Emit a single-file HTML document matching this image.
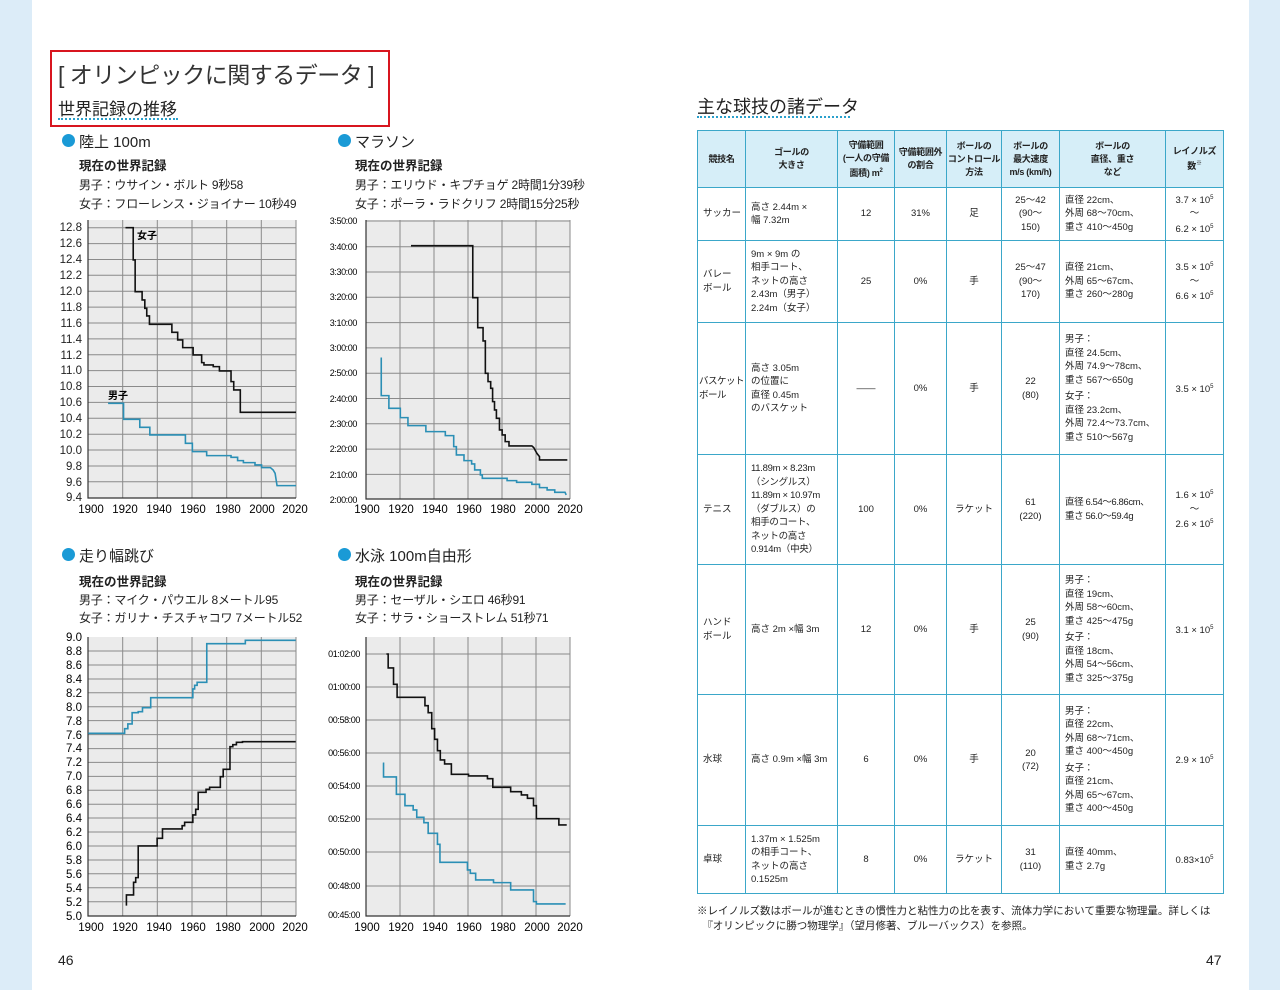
<!DOCTYPE html>
<html><head><meta charset="utf-8">
<style>
body{margin:0;width:1280px;height:990px;position:relative;background:#fff;font-family:"Liberation Sans","Noto Sans CJK JP",sans-serif;color:#222;overflow:hidden}
.a{position:absolute;white-space:nowrap}
.dot{position:absolute;width:13px;height:13px;border-radius:50%;background:#1a9ad6}
.h{font-size:15px}
.b{font-size:12.5px;font-weight:bold}
.t{font-size:12px;letter-spacing:-0.2px}
table{position:absolute;left:697px;top:130px;border-collapse:collapse;font-size:9.5px;line-height:13.5px;table-layout:fixed;width:526px}
td{border:1.5px solid #3ba7c9;padding:0 3px 0 5px;vertical-align:middle;white-space:nowrap;overflow:hidden}
th{border:1.5px solid #3ba7c9;background:#d6eef8;font-weight:bold;font-size:9px;line-height:13px;padding:0;white-space:nowrap;letter-spacing:-0.3px}
.c{text-align:center;padding:0}
sup{font-size:6px}
</style></head><body>
<div style="position:absolute;left:0;top:0;width:32px;height:990px;background:#dcecf8"></div>
<div style="position:absolute;left:1249px;top:0;width:31px;height:990px;background:#dcecf8"></div>

<div style="position:absolute;left:50px;top:50px;width:336px;height:73px;border:2px solid #d8151f"></div>
<div class="a" style="left:58px;top:56px;font-size:23px;color:#333;letter-spacing:-0.5px">[ オリンピックに関するデータ ]</div>
<div class="a" style="left:58px;top:95px;font-size:17px">世界記録の推移</div>
<div style="position:absolute;left:58px;top:118px;width:120px;border-top:2px dotted #2aa0cc"></div>

<div class="dot" style="left:62px;top:134px"></div><div class="a h" style="left:79px;top:131px">陸上 100m</div>
<div class="a b" style="left:79px;top:155px">現在の世界記録</div>
<div class="a t" style="left:79px;top:176px">男子：ウサイン・ボルト 9秒58</div>
<div class="a t" style="left:79px;top:195px">女子：フローレンス・ジョイナー 10秒49</div>

<div class="dot" style="left:338px;top:134px"></div><div class="a h" style="left:355px;top:131px">マラソン</div>
<div class="a b" style="left:355px;top:155px">現在の世界記録</div>
<div class="a t" style="left:355px;top:176px">男子：エリウド・キプチョゲ 2時間1分39秒</div>
<div class="a t" style="left:355px;top:195px">女子：ポーラ・ラドクリフ 2時間15分25秒</div>

<div class="dot" style="left:62px;top:548px"></div><div class="a h" style="left:79px;top:545px">走り幅跳び</div>
<div class="a b" style="left:79px;top:571px">現在の世界記録</div>
<div class="a t" style="left:79px;top:591px">男子：マイク・パウエル 8メートル95</div>
<div class="a t" style="left:79px;top:609px">女子：ガリナ・チスチャコワ 7メートル52</div>

<div class="dot" style="left:338px;top:548px"></div><div class="a h" style="left:355px;top:545px">水泳 100m自由形</div>
<div class="a b" style="left:355px;top:571px">現在の世界記録</div>
<div class="a t" style="left:355px;top:591px">男子：セーザル・シエロ 46秒91</div>
<div class="a t" style="left:355px;top:609px">女子：サラ・ショーストレム 51秒71</div>

<svg width="1280" height="990" style="position:absolute;left:0;top:0" font-family="Liberation Sans, sans-serif">
<!-- chart 1 -->
<rect x="88" y="220" width="208" height="278" fill="#ebebeb"/>
<g stroke="#8a8a8a" stroke-width="1">
<path d="M122.7 220V498M157.3 220V498M192 220V498M226.7 220V498M261.3 220V498M296 220V498"/>
<path d="M88 227.7H296M88 243.6H296M88 259.5H296M88 275.3H296M88 291.2H296M88 307.1H296M88 323H296M88 338.9H296M88 354.8H296M88 370.6H296M88 386.5H296M88 402.4H296M88 418.3H296M88 434.2H296M88 450H296M88 466H296M88 481.8H296"/>
</g>
<path d="M88 220V498H296" stroke="#333" fill="none" stroke-width="1.2"/>
<g font-size="11.5" text-anchor="end" fill="#222">
<text x="82" y="231">12.8</text><text x="82" y="247">12.6</text><text x="82" y="263">12.4</text><text x="82" y="279">12.2</text><text x="82" y="295">12.0</text><text x="82" y="311">11.8</text><text x="82" y="327">11.6</text><text x="82" y="343">11.4</text><text x="82" y="359">11.2</text><text x="82" y="374">11.0</text><text x="82" y="390">10.8</text><text x="82" y="406">10.6</text><text x="82" y="422">10.4</text><text x="82" y="438">10.2</text><text x="82" y="454">10.0</text><text x="82" y="470">9.8</text><text x="82" y="486">9.6</text><text x="82" y="501">9.4</text>
</g>
<g font-size="11.5" text-anchor="middle"><text x="91" y="513">1900</text><text x="125" y="513">1920</text><text x="159" y="513">1940</text><text x="193" y="513">1960</text><text x="228" y="513">1980</text><text x="262" y="513">2000</text><text x="295" y="513">2020</text></g>
<g transform="matrix(0.3866 0 0 0.3333 38.5 40)" fill="none" stroke-width="1.6">
<polyline vector-effect="non-scaling-stroke" stroke="#111" points="225,563 245,563 245,660 250,660 250,755 268,755 268,780 275,780 275,805 280,805 280,828 287,828 287,853 345,853 345,877 360,877 360,900 373,900 373,923 400,923 400,945 422,945 422,968 428,968 428,975 452,975 452,980 468,980 468,993 498,993 498,1025 505,1025 505,1050 522,1050 522,1117 666,1117"/>
<polyline vector-effect="non-scaling-stroke" stroke="#2b8fb5" points="180,1090 220,1090 220,1138 262,1138 262,1162 288,1162 288,1185 380,1185 380,1210 398,1210 398,1235 435,1235 435,1247 498,1247 498,1252 515,1252 515,1262 530,1262 530,1268 560,1268 560,1275 577,1275 577,1283 600,1283 607,1290 612,1300 617,1337 666,1337"/>
</g>
<text x="137" y="239" font-size="10" font-weight="bold" font-family="Liberation Sans, Noto Sans CJK JP, sans-serif">女子</text>
<text x="108" y="399" font-size="10" font-weight="bold" font-family="Liberation Sans, Noto Sans CJK JP, sans-serif">男子</text>

<!-- chart 2 -->
<rect x="366" y="220" width="204" height="279" fill="#ebebeb"/>
<g stroke="#8a8a8a" stroke-width="1">
<path d="M400 220V499M434 220V499M468 220V499M502 220V499M536 220V499M570 220V499"/>
<path d="M366 221H570M366 246.7H570M366 272H570M366 297.3H570M366 322.6H570M366 347.9H570M366 373.2H570M366 398.5H570M366 423.8H570M366 449.1H570M366 474.4H570"/>
</g>
<path d="M366 220V499H570" stroke="#333" fill="none" stroke-width="1.2"/>
<g font-size="9" text-anchor="end" letter-spacing="-0.4"><text x="357" y="224">3:50:00</text><text x="357" y="250">3:40:00</text><text x="357" y="275">3:30:00</text><text x="357" y="300">3:20:00</text><text x="357" y="326">3:10:00</text><text x="357" y="351">3:00:00</text><text x="357" y="376">2:50:00</text><text x="357" y="402">2:40:00</text><text x="357" y="427">2:30:00</text><text x="357" y="452">2:20:00</text><text x="357" y="478">2:10:00</text><text x="357" y="503">2:00:00</text></g>
<g font-size="11.5" text-anchor="middle"><text x="367" y="513">1900</text><text x="401" y="513">1920</text><text x="435" y="513">1940</text><text x="469" y="513">1960</text><text x="503" y="513">1980</text><text x="537" y="513">2000</text><text x="570" y="513">2020</text></g>
<g transform="matrix(0.3813 0 0 0.3333 41.9 40)" fill="none" stroke-width="1.6">
<polyline vector-effect="non-scaling-stroke" stroke="#111" points="968,617 1130,617 1130,773 1143,773 1143,863 1157,863 1157,903 1163,903 1163,1000 1170,1000 1170,1025 1177,1025 1177,1045 1182,1045 1182,1085 1187,1085 1187,1110 1192,1110 1192,1135 1200,1135 1200,1170 1207,1170 1207,1185 1215,1185 1215,1205 1225,1205 1225,1218 1285,1218 1290,1223 1298,1240 1305,1250 1305,1260 1378,1260"/>
<polyline vector-effect="non-scaling-stroke" stroke="#2b8fb5" points="888,955 890,955 890,1067 910,1067 910,1105 940,1105 940,1133 960,1133 960,1157 1007,1157 1007,1175 1058,1175 1058,1187 1080,1187 1080,1220 1087,1220 1087,1245 1107,1245 1107,1262 1127,1262 1127,1272 1135,1272 1135,1290 1150,1290 1150,1305 1155,1305 1155,1315 1220,1315 1220,1322 1245,1322 1245,1327 1285,1327 1285,1333 1305,1333 1305,1343 1325,1343 1325,1350 1345,1350 1345,1357 1372,1357 1375,1365"/>
</g>

<!-- chart 3 -->
<rect x="88" y="637" width="208" height="279" fill="#ebebeb"/>
<g stroke="#8a8a8a" stroke-width="1">
<path d="M122.7 637V916M157.3 637V916M192 637V916M226.7 637V916M261.3 637V916M296 637V916"/>
<path d="M88 651H296M88 665H296M88 679H296M88 692.8H296M88 706.7H296M88 720.6H296M88 734.6H296M88 748.6H296M88 762.4H296M88 776.4H296M88 790.3H296M88 804.2H296M88 818H296M88 832H296M88 846H296M88 860H296M88 873.8H296M88 887.8H296M88 901.7H296"/>
</g>
<path d="M88 637V916H296" stroke="#333" fill="none" stroke-width="1.2"/>
<g font-size="11.5" text-anchor="end">
<text x="82" y="641">9.0</text><text x="82" y="655">8.8</text><text x="82" y="669">8.6</text><text x="82" y="683">8.4</text><text x="82" y="697">8.2</text><text x="82" y="711">8.0</text><text x="82" y="725">7.8</text><text x="82" y="739">7.6</text><text x="82" y="752">7.4</text><text x="82" y="766">7.2</text><text x="82" y="780">7.0</text><text x="82" y="794">6.8</text><text x="82" y="808">6.6</text><text x="82" y="822">6.4</text><text x="82" y="836">6.2</text><text x="82" y="850">6.0</text><text x="82" y="864">5.8</text><text x="82" y="878">5.6</text><text x="82" y="892">5.4</text><text x="82" y="906">5.2</text><text x="82" y="920">5.0</text>
</g>
<g font-size="11.5" text-anchor="middle"><text x="91" y="931">1900</text><text x="125" y="931">1920</text><text x="159" y="931">1940</text><text x="193" y="931">1960</text><text x="228" y="931">1980</text><text x="262" y="931">2000</text><text x="295" y="931">2020</text></g>
<g transform="matrix(0.3571 0 0 0.3333 40 540)" fill="none" stroke-width="1.6">
<polyline vector-effect="non-scaling-stroke" stroke="#2b8fb5" points="135,580 237,580 237,566 246,566 246,552 258,552 258,518 275,518 275,515 287,515 287,503 310,503 310,473 428,473 428,447 433,447 433,436 440,436 440,427 467,427 467,311 575,311 575,301 716,301"/>
<polyline vector-effect="non-scaling-stroke" stroke="#111" points="242,1097 242,1065 262,1065 262,1027 268,1027 268,1013 275,1013 275,918 328,918 328,895 343,895 343,867 398,867 398,857 405,857 405,847 428,847 428,825 436,825 436,808 443,808 443,757 465,757 465,748 475,748 475,742 505,742 505,710 513,710 513,688 532,688 532,620 540,620 540,614 550,614 550,607 567,607 567,605 716,605"/>
</g>

<!-- chart 4 -->
<rect x="366" y="637" width="204" height="279" fill="#ebebeb"/>
<g stroke="#8a8a8a" stroke-width="1">
<path d="M400 637V916M434 637V916M468 637V916M502 637V916M536 637V916M570 637V916"/>
<path d="M366 654H570M366 687H570M366 720H570M366 753H570M366 786H570M366 819H570M366 852H570M366 886H570"/>
</g>
<path d="M366 637V916H570" stroke="#333" fill="none" stroke-width="1.2"/>
<g font-size="9" text-anchor="end" letter-spacing="-0.4"><text x="360" y="657">01:02:00</text><text x="360" y="690">01:00:00</text><text x="360" y="723">00:58:00</text><text x="360" y="756">00:56:00</text><text x="360" y="789">00:54:00</text><text x="360" y="822">00:52:00</text><text x="360" y="855">00:50:00</text><text x="360" y="889">00:48:00</text><text x="360" y="918">00:45:00</text></g>
<g font-size="11.5" text-anchor="middle"><text x="367" y="931">1900</text><text x="401" y="931">1920</text><text x="435" y="931">1940</text><text x="469" y="931">1960</text><text x="503" y="931">1980</text><text x="537" y="931">2000</text><text x="570" y="931">2020</text></g>
<g transform="matrix(0.3571 0 0 0.3333 40 540)" fill="none" stroke-width="1.6">
<polyline vector-effect="non-scaling-stroke" stroke="#111" points="970,342 975,342 975,384 990,384 990,433 1000,433 1000,472 1078,472 1078,497 1087,497 1087,518 1097,518 1097,566 1105,566 1105,598 1113,598 1113,632 1121,632 1121,660 1133,660 1133,672 1152,672 1152,703 1200,703 1200,708 1253,708 1253,716 1268,716 1268,742 1318,742 1318,755 1348,755 1348,765 1365,765 1365,775 1382,775 1382,797 1390,797 1390,836 1453,836 1453,855 1475,855"/>
<polyline vector-effect="non-scaling-stroke" stroke="#2b8fb5" points="960,670 962,670 962,711 998,711 998,763 1022,763 1022,797 1045,797 1045,810 1055,810 1055,832 1075,832 1075,848 1087,848 1087,880 1113,880 1113,913 1120,913 1120,967 1197,967 1197,990 1205,990 1205,1000 1220,1000 1220,1020 1270,1020 1270,1028 1318,1028 1318,1050 1382,1050 1382,1085 1390,1085 1390,1092 1472,1092"/>
</g>
</svg>

<div class="a" style="left:58px;top:952px;font-size:14px">46</div>
<div class="a" style="left:1206px;top:952px;font-size:14px">47</div>

<div class="a" style="left:697px;top:93px;font-size:18px">主な球技の諸データ</div>
<div style="position:absolute;left:697px;top:116px;width:153px;border-top:2px dotted #2aa0cc"></div>

<table>
<colgroup><col style="width:48px"><col style="width:92px"><col style="width:57px"><col style="width:52px"><col style="width:55px"><col style="width:58px"><col style="width:106px"><col style="width:58px"></colgroup>
<tr style="height:57px"><th>競技名</th><th>ゴールの<br>大きさ</th><th>守備範囲<br>(一人の守備<br>面積) m<sup>2</sup></th><th>守備範囲外<br>の割合</th><th>ボールの<br>コントロール<br>方法</th><th>ボールの<br>最大速度<br>m/s (km/h)</th><th>ボールの<br>直径、重さ<br>など</th><th>レイノルズ<br>数<sup>※</sup></th></tr>
<tr style="height:53px"><td>サッカー</td><td>高さ 2.44m ×<br>幅 7.32m</td><td class="c">12</td><td class="c">31%</td><td class="c">足</td><td class="c">25～42<br>(90～<br>150)</td><td>直径 22cm、<br>外周 68～70cm、<br>重さ 410～450g</td><td class="c">3.7 × 10<sup>5</sup><br>～<br>6.2 × 10<sup>5</sup></td></tr>
<tr style="height:82px"><td>バレー<br>ボール</td><td>9m × 9m の<br>相手コート、<br>ネットの高さ<br>2.43m（男子）<br>2.24m（女子）</td><td class="c">25</td><td class="c">0%</td><td class="c">手</td><td class="c">25～47<br>(90～<br>170)</td><td>直径 21cm、<br>外周 65～67cm、<br>重さ 260～280g</td><td class="c">3.5 × 10<sup>5</sup><br>～<br>6.6 × 10<sup>5</sup></td></tr>
<tr style="height:132px"><td style="padding:0 1px;letter-spacing:-0.5px">バスケット<br>ボール</td><td>高さ 3.05m<br>の位置に<br>直径 0.45m<br>のバスケット</td><td class="c">――</td><td class="c">0%</td><td class="c">手</td><td class="c">22<br>(80)</td><td>男子：<br>直径 24.5cm、<br>外周 74.9～78cm、<br>重さ 567～650g<br><span style="display:block;height:3px"></span>女子：<br>直径 23.2cm、<br>外周 72.4～73.7cm、<br>重さ 510～567g</td><td class="c">3.5 × 10<sup>5</sup></td></tr>
<tr style="height:110px"><td>テニス</td><td style="letter-spacing:-0.3px">11.89m × 8.23m<br>（シングルス）<br>11.89m × 10.97m<br>（ダブルス）の<br>相手のコート、<br>ネットの高さ<br>0.914m（中央）</td><td class="c">100</td><td class="c">0%</td><td class="c">ラケット</td><td class="c">61<br>(220)</td><td style="letter-spacing:-0.4px">直径 6.54～6.86cm、<br>重さ 56.0～59.4g</td><td class="c">1.6 × 10<sup>5</sup><br>～<br>2.6 × 10<sup>5</sup></td></tr>
<tr style="height:130px"><td>ハンド<br>ボール</td><td>高さ 2m ×幅 3m</td><td class="c">12</td><td class="c">0%</td><td class="c">手</td><td class="c">25<br>(90)</td><td>男子：<br>直径 19cm、<br>外周 58～60cm、<br>重さ 425～475g<br><span style="display:block;height:3px"></span>女子：<br>直径 18cm、<br>外周 54～56cm、<br>重さ 325～375g</td><td class="c">3.1 × 10<sup>5</sup></td></tr>
<tr style="height:131px"><td>水球</td><td>高さ 0.9m ×幅 3m</td><td class="c">6</td><td class="c">0%</td><td class="c">手</td><td class="c">20<br>(72)</td><td>男子：<br>直径 22cm、<br>外周 68～71cm、<br>重さ 400～450g<br><span style="display:block;height:3px"></span>女子：<br>直径 21cm、<br>外周 65～67cm、<br>重さ 400～450g</td><td class="c">2.9 × 10<sup>5</sup></td></tr>
<tr style="height:68px"><td>卓球</td><td>1.37m × 1.525m<br>の相手コート、<br>ネットの高さ<br>0.1525m</td><td class="c">8</td><td class="c">0%</td><td class="c">ラケット</td><td class="c">31<br>(110)</td><td>直径 40mm、<br>重さ 2.7g</td><td class="c">0.83×10<sup>5</sup></td></tr>
</table>

<div class="a" style="left:697px;top:904px;font-size:10.5px;line-height:15px">※レイノルズ数はボールが進むときの慣性力と粘性力の比を表す、流体力学において重要な物理量。詳しくは<br>　『オリンピックに勝つ物理学』（望月修著、ブルーバックス）を参照。</div>
</body></html>
